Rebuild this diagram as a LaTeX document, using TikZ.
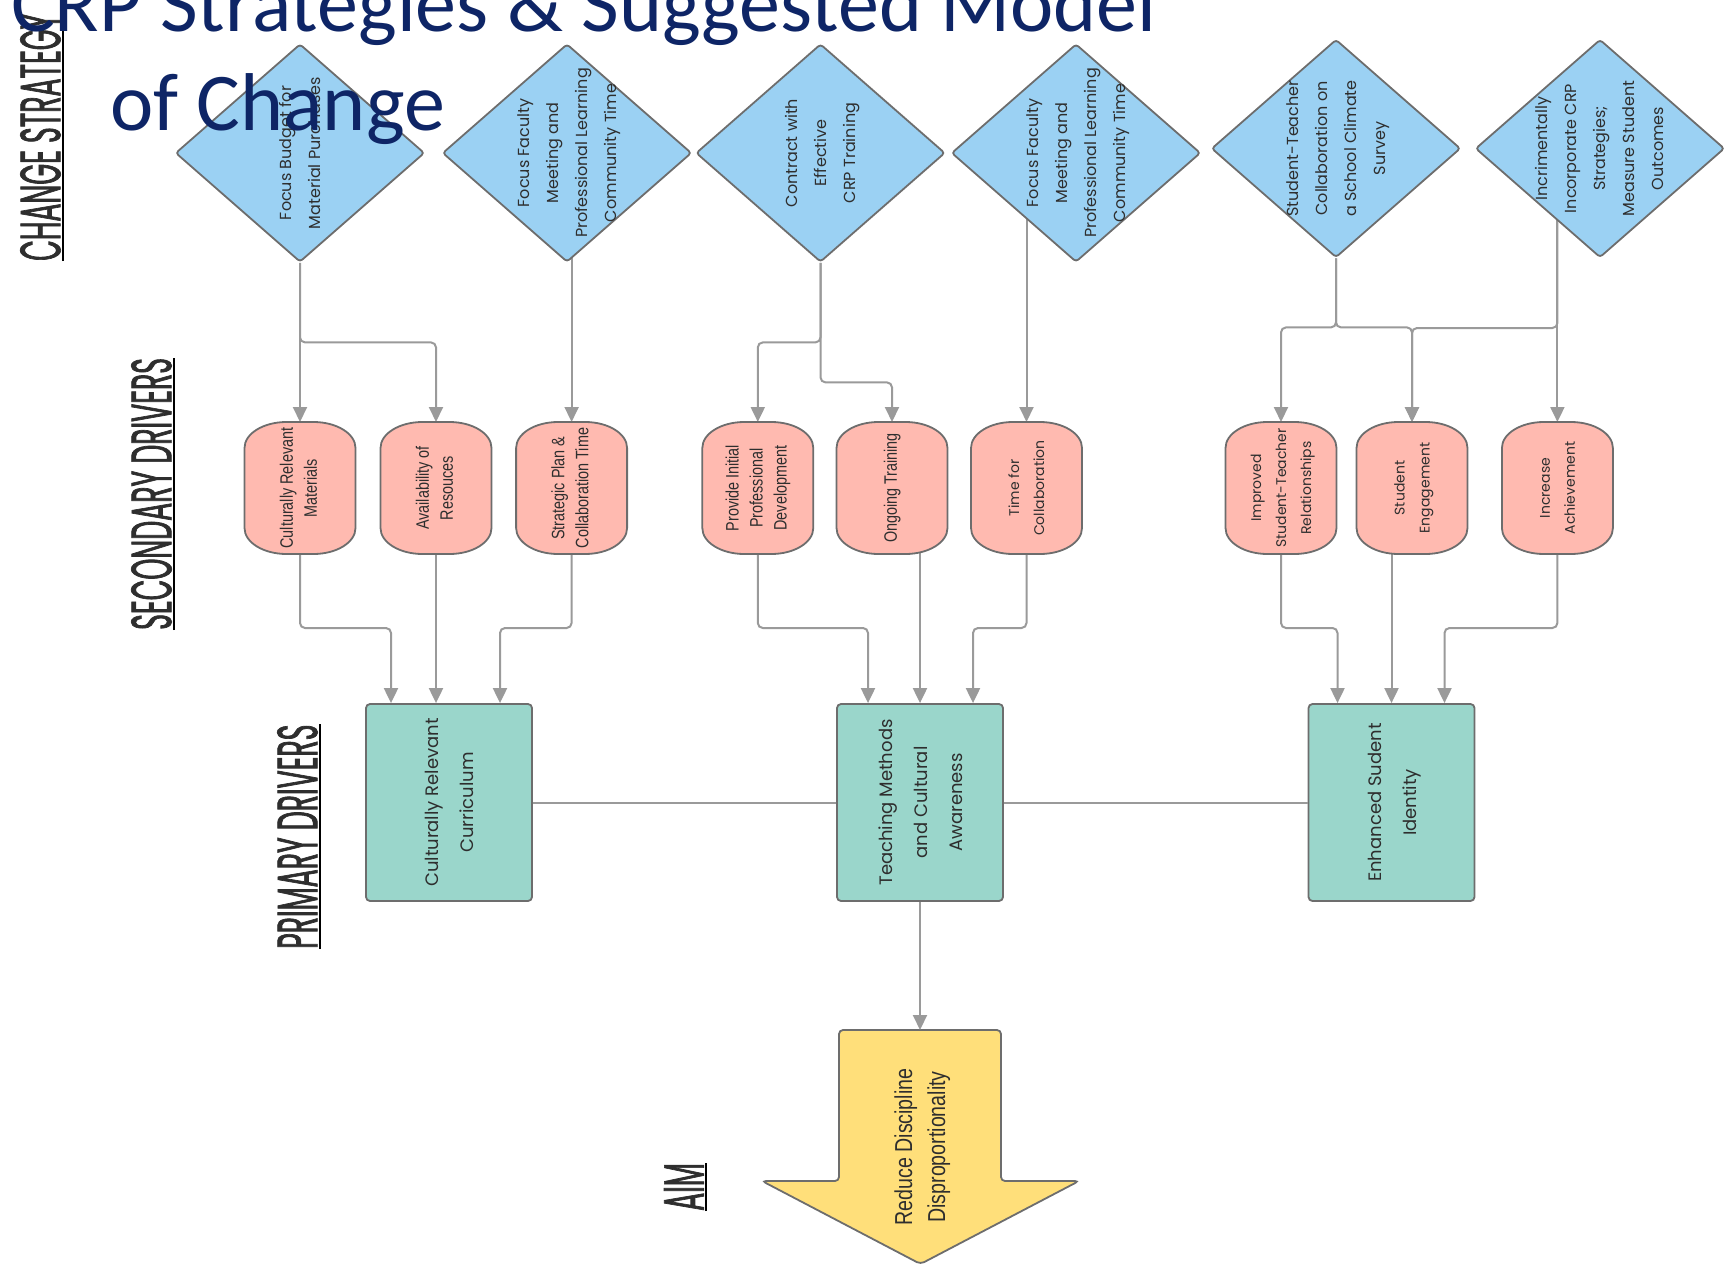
\documentclass[tikz,border=0pt]{standalone}
\usepackage{fontspec}
\usepackage{graphicx}
\usetikzlibrary{arrows.meta,backgrounds,shapes.geometric,calc}

\setmainfont{Poppins}
\newfontfamily\narrowfont[FakeStretch=0.8]{Liberation Sans}
\newfontfamily\handfont[FakeStretch=0.47,FakeBold=1.2]{Poppins}
\newfontfamily\titlefont{Carlito}

\definecolor{stratblue}{RGB}{155,209,243}
\definecolor{drvpink}{RGB}{255,186,176}
\definecolor{primteal}{RGB}{154,214,203}
\definecolor{aimyellow}{RGB}{255,223,122}
\definecolor{edgegray}{RGB}{109,109,109}
\definecolor{linkgray}{RGB}{154,154,154}
\definecolor{inkgray}{RGB}{46,46,46}
\definecolor{titleblue}{RGB}{14,37,102}

% rotated, centred block of lines (takes no width)
\newcommand\vtext[1]{\makebox[0pt]{\rotatebox{90}{\begin{tabular}{@{}c@{}}#1\end{tabular}}}}

% pill outline round a secondary driver node
\newcommand\pillshape[1]{%
  \draw[pillline] ([yshift=-26pt]#1.north west) arc[start angle=180,end angle=90,x radius=42pt,y radius=26pt]
    -- ([xshift=-42pt]#1.north east) arc[start angle=90,end angle=0,x radius=42pt,y radius=26pt]
    -- ([yshift=26pt]#1.south east) arc[start angle=0,end angle=-90,x radius=42pt,y radius=26pt]
    -- ([xshift=42pt]#1.south west) arc[start angle=-90,end angle=-180,x radius=42pt,y radius=26pt]
    -- cycle;}

\tikzset{
  strategy/.style={diamond, draw=edgegray, fill=stratblue, line width=1.8pt, rounded corners=3pt,
    minimum width=249pt, minimum height=218pt, inner sep=0pt, text=inkgray,
    font=\fontsize{16}{29}\selectfont},
  second/.style={rectangle, minimum width=111pt, minimum height=132pt, inner sep=0pt, outer sep=0pt,
    text=inkgray, font=\narrowfont\fontsize{18}{24}\selectfont},
  secondwide/.style={second, font=\fontsize{14}{25}\selectfont},
  pillline/.style={draw=edgegray, fill=drvpink, line width=1.8pt},
  primary/.style={rectangle, draw=edgegray, fill=primteal, line width=1.8pt, rounded corners=4pt,
    minimum width=166pt, minimum height=197pt, inner sep=0pt, text=inkgray,
    font=\fontsize{18}{35}\selectfont},
  aimshape/.style={draw=edgegray, fill=aimyellow, line width=1.8pt, rounded corners=4pt},
  aimtext/.style={inner sep=0pt, text=inkgray, font=\narrowfont\fontsize{24.5}{33}\selectfont},
  section/.style={rotate=90, inner xsep=0pt, inner ysep=2pt, text=inkgray,
    font=\handfont\fontsize{57}{60}\selectfont},
  uline/.style={draw=black, line width=1.2pt},
  titletext/.style={inner sep=0pt, anchor=base west, text=titleblue,
    font=\titlefont\fontsize{82}{99}\selectfont},
  link/.style={draw=linkgray, line width=2pt, rounded corners=5pt, -{Triangle[length=15pt,width=14pt]}},
  joint/.style={draw=linkgray, line width=2pt}
}

\begin{document}
\begin{tikzpicture}[x=1pt,y=1pt]
  \useasboundingbox (0,0) rectangle (1727,-1266);
  \clip (0,0) rectangle (1727,-1266);

  % change strategies
  \node[strategy] (D1) at (300,-153) {\vtext{Focus Budget for\\Material Purchases}};
  \node[strategy] (D2) at (567,-153) {\vtext{Focus Faculty\\Meeting and\\Professional Learning\\Community Time}};
  \node[strategy] (D3) at (820.5,-153) {\vtext{Contract with\\Effective\\CRP Training}};
  \node[strategy] (D4) at (1076,-153) {\vtext{Focus Faculty\\Meeting and\\Professional Learning\\Community Time}};
  \node[strategy] (D5) at (1336,-148.5) {\vtext{Student-Teacher\\Collaboration on\\a School Climate\\Survey}};
  \node[strategy] (D6) at (1600,-148.5) {\vtext{Incrimentally\\Incorporate CRP\\Strategies;\\Measure Student\\Outcomes}};

  % secondary drivers
  \node[second] (S1) at (300,-488) {\vtext{Culturally Relevant\\Materials}};
  \node[second] (S2) at (436,-488) {\vtext{Availability of\\Resouces}};
  \node[second] (S3) at (571.6,-488) {\vtext{Strategic Plan \&\\Collaboration Time}};
  \node[second] (S4) at (757.8,-488) {\vtext{Provide Initial\\Professional\\Development}};
  \node[second] (S5) at (892,-488) {\vtext{Ongoing Training}};
  \node[secondwide] (S6) at (1026.5,-488) {\vtext{Time for\\Collaboration}};
  \node[secondwide] (S7) at (1281,-488) {\vtext{Improved\\Student-Teacher\\Relationships}};
  \node[secondwide] (S8) at (1412,-488) {\vtext{Student\\Engagement}};
  \node[secondwide] (S9) at (1557.4,-488) {\vtext{Increase\\Achievement}};

  % primary drivers
  \node[primary] (P1) at (449,-802.5) {\vtext{Culturally Relevant\\Curriculum}};
  \node[primary] (P2) at (920,-802.5) {\vtext{Teaching Methods\\and Cultural\\Awareness}};
  \node[primary] (P3) at (1391.5,-802.5) {\vtext{Enhanced Sudent\\Identity}};

  % aim
  \draw[aimshape] (839,-1030) -- (1001,-1030) -- (1001,-1181) -- (1079,-1181)
    -- (920.5,-1264) -- (762,-1181) -- (839,-1181) -- cycle;
  \coordinate (aimtop) at (920,-1030);
  \node[aimtext] (aim) at (922,-1147) {\vtext{Reduce Discipline\\Disproportionality}};

  \begin{scope}[on background layer]
    % strategies -> secondary drivers
    \draw[link] (D1.south) -- (S1.north);
    \draw[link] (D1.south) -- ++(0,-79.5) -| (S2.north);
    \draw[link] (S3.north |- D2.center) -- (S3.north);
    \draw[link] (D3.south) -- ++(0,-79.5) -| (S4.north);
    \draw[link] (D3.south) -- ++(0,-119.5) -| (S5.north);
    \draw[link] (S6.north |- D4.center) -- (S6.north);
    \draw[link] (D5.south) -- ++(0,-69) -| (S7.north);
    \draw[link] (D5.south) -- ++(0,-69) -| (S8.north);
    \draw[link] (S9.north |- D6.center) |- ([yshift=94pt]S8.north) -- (S8.north);
    \draw[link] (S9.north |- D6.center) -- (S9.north);
    % secondary -> primary drivers
    \draw[link] (S1.south) -- ++(0,-74) -| ([xshift=-58pt]P1.north);
    \draw[link] (S2.south) -- (S2.south |- P1.north);
    \draw[link] (S3.south) -- ++(0,-74) -| ([xshift=51pt]P1.north);
    \draw[link] (S4.south) -- ++(0,-74) -| ([xshift=-52pt]P2.north);
    \draw[link] (P2.north |- S5.center) -- (P2.north);
    \draw[link] (S6.south) -- ++(0,-74) -| ([xshift=53pt]P2.north);
    \draw[link] (S7.south) -- ++(0,-74) -| ([xshift=-54pt]P3.north);
    \draw[link] (P3.north |- S8.center) -- (P3.north);
    \draw[link] (S9.south) -- ++(0,-74) -| ([xshift=53pt]P3.north);
  \end{scope}
  \begin{scope}[on background layer]
    \foreach \n in {S1,S2,S3,S4,S5,S6,S7,S8,S9} {\pillshape{\n}}
  \end{scope}

  \draw[joint] (P1.east) -- (P2.west);
  \draw[joint] (P2.east) -- (P3.west);
  \draw[link] (P2.south) -- (aimtop);

  % row labels
  \node[section, anchor=south west] (lblstrat) at (63,-261) {CHANGE STRATEGY};
  \draw[uline] (lblstrat.south west) -- (lblstrat.south east);
  \node[section, anchor=south west] (lblsec) at (174,-630) {SECONDARY DRIVERS};
  \draw[uline] (lblsec.south west) -- (lblsec.south east);
  \node[section, anchor=south west] (lblprim) at (320,-949) {PRIMARY DRIVERS};
  \draw[uline] (lblprim.south west) -- (lblprim.south east);
  \node[section, anchor=south west] (lblaim) at (706,-1211) {AIM};
  \draw[uline] (lblaim.south west) -- (lblaim.south east);

  % title
  \node[titletext] (title1) at (11,-31) {CRP Strategies \& Suggested Model};
  \node[titletext] (title2) at (110,-130) {of Change};
\end{tikzpicture}
\end{document}
